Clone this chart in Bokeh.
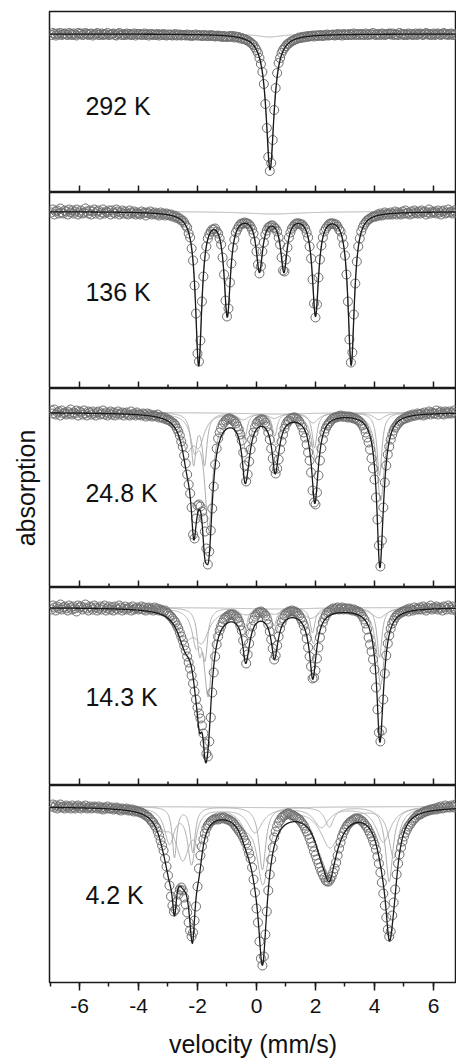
import numpy as np
from bokeh.plotting import figure
from bokeh.layouts import column
from bokeh.models import (Range1d, LinearAxis, SingleIntervalTicker, Label,
                          ColumnDataSource, CustomJSTickFormatter)
from bokeh.embed import file_html
from bokeh.resources import INLINE

# ---------------- data ----------------
# channel velocities (mm/s)
velocity = [
    -6.95, -6.9, -6.85, -6.8, -6.75, -6.7, -6.65, -6.6, -6.55, -6.5,
    -6.45, -6.4, -6.35, -6.3, -6.25, -6.2, -6.15, -6.1, -6.05, -6.0,
    -5.95, -5.9, -5.85, -5.8, -5.75, -5.7, -5.65, -5.6, -5.55, -5.5,
    -5.45, -5.4, -5.35, -5.3, -5.25, -5.2, -5.15, -5.1, -5.05, -5.0,
    -4.95, -4.9, -4.85, -4.8, -4.75, -4.7, -4.65, -4.6, -4.55, -4.5,
    -4.45, -4.4, -4.35, -4.3, -4.25, -4.2, -4.15, -4.1, -4.05, -4.0,
    -3.95, -3.9, -3.85, -3.8, -3.75, -3.7, -3.65, -3.6, -3.55, -3.5,
    -3.45, -3.4, -3.35, -3.3, -3.25, -3.2, -3.15, -3.1, -3.05, -3.0,
    -2.95, -2.9, -2.85, -2.8, -2.75, -2.7, -2.65, -2.6, -2.55, -2.5,
    -2.45, -2.4, -2.35, -2.3, -2.25, -2.2, -2.15, -2.1, -2.05, -2.0,
    -1.95, -1.9, -1.85, -1.8, -1.75, -1.7, -1.65, -1.6, -1.55, -1.5,
    -1.45, -1.4, -1.35, -1.3, -1.25, -1.2, -1.15, -1.1, -1.05, -1.0,
    -0.95, -0.9, -0.85, -0.8, -0.75, -0.7, -0.65, -0.6, -0.55, -0.5,
    -0.45, -0.4, -0.35, -0.3, -0.25, -0.2, -0.15, -0.1, -0.05, 0.0,
    0.05, 0.1, 0.15, 0.2, 0.25, 0.3, 0.35, 0.4, 0.45, 0.5,
    0.55, 0.6, 0.65, 0.7, 0.75, 0.8, 0.85, 0.9, 0.95, 1.0,
    1.05, 1.1, 1.15, 1.2, 1.25, 1.3, 1.35, 1.4, 1.45, 1.5,
    1.55, 1.6, 1.65, 1.7, 1.75, 1.8, 1.85, 1.9, 1.95, 2.0,
    2.05, 2.1, 2.15, 2.2, 2.25, 2.3, 2.35, 2.4, 2.45, 2.5,
    2.55, 2.6, 2.65, 2.7, 2.75, 2.8, 2.85, 2.9, 2.95, 3.0,
    3.05, 3.1, 3.15, 3.2, 3.25, 3.3, 3.35, 3.4, 3.45, 3.5,
    3.55, 3.6, 3.65, 3.7, 3.75, 3.8, 3.85, 3.9, 3.95, 4.0,
    4.05, 4.1, 4.15, 4.2, 4.25, 4.3, 4.35, 4.4, 4.45, 4.5,
    4.55, 4.6, 4.65, 4.7, 4.75, 4.8, 4.85, 4.9, 4.95, 5.0,
    5.05, 5.1, 5.15, 5.2, 5.25, 5.3, 5.35, 5.4, 5.45, 5.5,
    5.55, 5.6, 5.65, 5.7, 5.75, 5.8, 5.85, 5.9, 5.95, 6.0,
    6.05, 6.1, 6.15, 6.2, 6.25, 6.3, 6.35, 6.4, 6.45, 6.5,
    6.55, 6.6, 6.65, 6.7, 6.75,
]

# measured absorption (%) per channel
absorption_292K = [
    0.1, -0.1, 0.0, 0.15, -0.05, 0.05, -0.1, 0.1, 0.0, -0.05,
    0.05, 0.1, -0.1, 0.0, 0.1, -0.05, 0.05, 0.15, -0.1, 0.0,
    -0.05, 0.1, 0.05, -0.1, 0.0, 0.1, 0.0, -0.05, 0.15, 0.05,
    0.0, -0.1, 0.1, 0.05, -0.05, 0.1, 0.0, 0.05, -0.1, 0.1,
    0.05, 0.0, -0.05, 0.1, 0.15, 0.0, -0.1, 0.05, 0.1, 0.0,
    0.1, -0.05, 0.05, 0.0, 0.1, 0.05, -0.05, 0.15, 0.0, 0.05,
    0.0, 0.1, 0.05, -0.05, 0.1, 0.0, 0.15, 0.05, 0.0, 0.1,
    0.05, 0.1, 0.0, 0.15, 0.05, 0.1, 0.0, 0.1, 0.15, 0.05,
    0.1, 0.05, 0.15, 0.1, 0.0, 0.15, 0.1, 0.05, 0.15, 0.1,
    0.1, 0.15, 0.05, 0.15, 0.1, 0.2, 0.1, 0.15, 0.05, 0.15,
    0.15, 0.1, 0.2, 0.15, 0.1, 0.2, 0.15, 0.2, 0.1, 0.2,
    0.15, 0.25, 0.2, 0.15, 0.25, 0.2, 0.3, 0.2, 0.25, 0.3,
    0.25, 0.2, 0.3, 0.2, 0.35, 0.25, 0.35, 0.3, 0.45, 0.4,
    0.5, 0.5, 0.6, 0.65, 0.75, 0.85, 1.0, 1.1, 1.35, 1.6,
    1.9, 2.4, 3.0, 3.8, 5.0, 7.0, 9.4, 12.3, 13.7, 12.9,
    10.6, 7.6, 5.4, 3.9, 2.9, 2.4, 1.9, 1.6, 1.4, 1.2,
    1.0, 0.95, 0.8, 0.7, 0.65, 0.55, 0.5, 0.45, 0.35, 0.4,
    0.3, 0.35, 0.25, 0.3, 0.2, 0.25, 0.2, 0.15, 0.25, 0.15,
    0.15, 0.2, 0.1, 0.15, 0.2, 0.1, 0.15, 0.05, 0.15, 0.1,
    0.1, 0.05, 0.15, 0.1, 0.0, 0.1, 0.05, 0.15, 0.0, 0.1,
    0.05, 0.1, 0.0, 0.1, 0.05, -0.05, 0.1, 0.05, 0.0, 0.1,
    0.0, 0.05, 0.1, -0.05, 0.05, 0.1, 0.0, 0.05, -0.1, 0.05,
    0.1, 0.0, 0.05, 0.1, -0.05, 0.0, 0.1, 0.05, 0.0, -0.05,
    0.05, -0.05, 0.1, 0.0, 0.05, 0.1, -0.1, 0.05, 0.0, 0.1,
    0.0, 0.1, -0.05, 0.05, 0.0, 0.1, 0.05, -0.05, 0.1, 0.0,
    -0.05, 0.05, 0.1, 0.0, -0.1, 0.05, 0.0, 0.1, 0.05, -0.05,
    0.1, 0.0, -0.05, 0.05, 0.1, 0.0, -0.1, 0.05, 0.0, 0.1,
    0.0, -0.05, 0.1, 0.05, 0.0,
]

absorption_136K = [
    0.1, -0.2, 0.3, 0.0, -0.1, 0.2, -0.3, 0.1, 0.2, -0.1,
    0.0, 0.3, -0.2, 0.1, -0.1, 0.2, 0.0, -0.2, 0.3, 0.1,
    -0.1, 0.2, 0.1, -0.3, 0.0, 0.2, -0.1, 0.3, 0.0, -0.2,
    0.2, 0.0, -0.1, 0.3, 0.1, -0.2, 0.2, 0.0, 0.1, -0.1,
    0.3, -0.1, 0.1, 0.2, -0.2, 0.0, 0.3, 0.1, -0.1, 0.2,
    0.0, 0.2, 0.3, -0.1, 0.1, 0.2, 0.0, 0.3, 0.1, 0.2,
    0.3, 0.0, 0.2, 0.1, 0.4, 0.1, 0.2, 0.0, 0.3, 0.2,
    0.1, 0.3, 0.2, 0.4, 0.1, 0.3, 0.2, 0.4, 0.2, 0.3,
    0.4, 0.3, 0.5, 0.4, 0.6, 0.5, 0.7, 0.7, 0.9, 0.9,
    1.1, 1.4, 1.6, 2.2, 2.6, 3.7, 4.9, 7.4, 10.2, 14.2,
    15.0, 12.9, 9.0, 6.5, 4.5, 3.5, 2.7, 2.3, 2.0, 1.8,
    1.8, 1.7, 2.0, 2.2, 2.7, 3.3, 4.6, 6.3, 8.9, 10.5,
    9.7, 7.1, 5.2, 3.6, 2.8, 2.1, 1.8, 1.5, 1.3, 1.2,
    1.2, 1.1, 1.2, 1.2, 1.3, 1.5, 1.8, 2.2, 3.0, 4.0,
    5.3, 6.2, 5.5, 4.0, 3.1, 2.3, 1.9, 1.6, 1.5, 1.4,
    1.4, 1.6, 1.7, 2.0, 2.6, 3.3, 4.6, 5.9, 6.0, 4.8,
    3.6, 2.6, 2.1, 1.7, 1.5, 1.3, 1.2, 1.2, 1.2, 1.3,
    1.3, 1.5, 1.7, 2.1, 2.6, 3.5, 4.7, 6.8, 9.2, 10.6,
    9.3, 6.6, 4.8, 3.4, 2.6, 2.0, 1.7, 1.5, 1.3, 1.2,
    1.2, 1.2, 1.3, 1.3, 1.5, 1.8, 2.0, 2.6, 3.3, 4.4,
    6.3, 9.0, 12.8, 15.1, 14.1, 10.3, 7.2, 5.0, 3.5, 2.7,
    2.0, 1.6, 1.3, 1.1, 0.9, 0.8, 0.7, 0.6, 0.5, 0.5,
    0.5, 0.3, 0.4, 0.2, 0.4, 0.3, 0.1, 0.3, 0.2, 0.3,
    0.1, 0.3, 0.2, 0.0, 0.3, 0.1, 0.2, 0.3, 0.0, 0.2,
    -0.1, 0.2, 0.1, 0.3, 0.0, 0.2, -0.1, 0.1, 0.2, 0.0,
    0.2, -0.1, 0.1, 0.0, 0.3, 0.1, -0.2, 0.2, 0.0, 0.1,
    0.0, 0.2, -0.1, 0.1, 0.3, 0.0, -0.1, 0.2, 0.1, -0.2,
    0.1, 0.0, 0.2, -0.1, 0.1,
]

absorption_248K = [
    -0.2, 0.1, -0.3, 0.2, 0.0, -0.1, 0.3, -0.2, 0.1, 0.0,
    0.2, -0.1, 0.1, -0.3, 0.2, 0.0, 0.1, -0.2, 0.3, -0.1,
    0.0, 0.2, -0.2, 0.1, 0.3, -0.1, 0.0, 0.2, -0.1, 0.1,
    0.3, 0.0, -0.1, 0.2, 0.1, -0.2, 0.2, 0.0, 0.3, 0.1,
    -0.1, 0.2, 0.0, 0.3, 0.1, -0.1, 0.2, 0.1, 0.0, 0.3,
    0.1, 0.0, 0.2, 0.3, -0.1, 0.2, 0.1, 0.3, 0.0, 0.2,
    0.2, 0.3, 0.1, 0.2, 0.4, 0.1, 0.3, 0.2, 0.4, 0.3,
    0.3, 0.4, 0.2, 0.5, 0.4, 0.5, 0.6, 0.5, 0.7, 0.7,
    0.8, 0.9, 1.0, 1.1, 1.3, 1.6, 1.9, 2.3, 2.9, 3.4,
    4.3, 5.1, 6.2, 7.2, 8.1, 9.5, 12.2, 12.6, 10.6, 9.3,
    9.2, 9.4, 9.9, 10.6, 11.9, 13.6, 15.2, 13.9, 11.8, 9.6,
    7.4, 5.2, 3.6, 2.6, 2.0, 1.6, 1.2, 1.0, 0.8, 0.7,
    0.6, 0.6, 0.7, 0.8, 0.9, 1.1, 1.4, 1.7, 2.2, 2.8,
    4.0, 5.3, 6.9, 6.2, 4.9, 3.7, 2.7, 2.0, 1.5, 1.1,
    0.9, 0.8, 0.7, 0.7, 0.8, 1.0, 1.4, 2.0, 2.7, 3.6,
    4.6, 5.6, 6.1, 5.6, 4.7, 3.7, 2.9, 2.2, 1.6, 1.2,
    0.9, 0.8, 0.6, 0.6, 0.5, 0.5, 0.6, 0.7, 0.9, 1.2,
    1.5, 2.0, 2.5, 3.2, 4.0, 4.8, 6.0, 7.8, 9.0, 9.2,
    8.0, 6.3, 4.8, 3.6, 2.7, 2.0, 1.6, 1.3, 1.1, 0.9,
    0.7, 0.6, 0.5, 0.5, 0.4, 0.4, 0.3, 0.4, 0.4, 0.4,
    0.4, 0.5, 0.4, 0.5, 0.5, 0.6, 0.6, 0.7, 0.8, 0.9,
    1.1, 1.3, 1.6, 2.0, 2.5, 3.0, 3.7, 4.6, 5.6, 6.7,
    8.5, 10.7, 13.3, 15.4, 12.8, 9.5, 7.0, 5.3, 4.2, 3.4,
    2.7, 2.2, 1.8, 1.5, 1.3, 1.1, 0.9, 0.8, 0.7, 0.6,
    0.6, 0.4, 0.5, 0.3, 0.4, 0.2, 0.3, 0.3, 0.1, 0.2,
    0.2, 0.1, 0.3, 0.0, 0.2, 0.1, -0.1, 0.2, 0.0, 0.1,
    0.1, -0.2, 0.2, 0.0, -0.1, 0.1, 0.2, -0.1, 0.0, 0.1,
    -0.1, 0.1, 0.0, -0.2, 0.1,
]

absorption_143K = [
    0.2, -0.2, 0.0, 0.3, -0.1, 0.1, -0.3, 0.2, 0.0, -0.1,
    0.1, 0.3, -0.2, 0.0, 0.2, -0.1, 0.1, 0.4, -0.2, 0.0,
    -0.1, 0.2, 0.0, -0.3, 0.1, 0.3, -0.1, 0.0, 0.2, -0.2,
    0.0, 0.3, 0.1, -0.1, 0.2, 0.0, -0.2, 0.3, 0.1, -0.1,
    0.2, 0.0, 0.3, -0.1, 0.1, 0.2, -0.2, 0.0, 0.3, 0.1,
    -0.1, 0.2, 0.1, 0.0, 0.3, -0.1, 0.2, 0.1, 0.0, 0.2,
    0.1, -0.1, 0.2, 0.0, 0.3, 0.1, 0.0, 0.2, 0.1, 0.3,
    0.0, 0.2, 0.1, 0.3, 0.2, 0.3, 0.4, 0.3, 0.5, 0.6,
    0.8, 0.9, 1.1, 1.3, 1.5, 1.8, 2.1, 2.5, 2.9, 3.3,
    3.8, 4.3, 4.9, 5.5, 6.1, 6.8, 7.6, 8.4, 9.2, 10.0,
    10.6, 11.1, 11.8, 12.6, 13.6, 14.6, 14.9, 13.4, 11.0, 8.5,
    6.5, 4.9, 3.7, 2.9, 2.3, 1.9, 1.5, 1.2, 1.0, 0.9,
    0.8, 0.7, 0.7, 0.7, 0.8, 0.9, 1.1, 1.4, 1.8, 2.3,
    3.3, 4.4, 5.6, 4.7, 3.6, 2.6, 1.9, 1.3, 0.9, 0.7,
    0.5, 0.5, 0.4, 0.5, 0.6, 0.8, 1.2, 1.7, 2.4, 3.2,
    4.1, 5.2, 4.8, 3.8, 2.9, 2.1, 1.5, 1.1, 0.8, 0.6,
    0.5, 0.4, 0.4, 0.3, 0.4, 0.4, 0.5, 0.6, 0.8, 1.1,
    1.4, 1.8, 2.4, 3.1, 4.0, 4.9, 5.9, 7.1, 7.0, 6.3,
    5.1, 4.0, 3.0, 2.2, 1.5, 1.1, 0.8, 0.5, 0.4, 0.3,
    0.2, 0.1, 0.2, 0.1, 0.0, 0.2, 0.1, 0.0, 0.2, 0.1,
    0.1, 0.2, 0.1, 0.2, 0.3, 0.2, 0.3, 0.4, 0.4, 0.5,
    0.7, 0.9, 1.2, 1.6, 2.2, 3.0, 3.7, 4.4, 5.2, 6.2,
    8.0, 10.2, 12.5, 13.4, 12.3, 9.2, 6.6, 4.8, 3.6, 2.8,
    2.1, 1.6, 1.3, 1.0, 0.8, 0.7, 0.6, 0.5, 0.4, 0.4,
    0.3, 0.2, 0.4, 0.1, 0.2, 0.3, 0.0, 0.2, 0.1, 0.2,
    0.0, 0.2, -0.1, 0.1, 0.3, 0.0, 0.1, -0.2, 0.2, 0.0,
    0.1, -0.1, 0.2, 0.0, 0.1, 0.3, -0.1, 0.0, 0.2, -0.2,
    0.0, 0.2, -0.1, 0.1, 0.3,
]

absorption_42K = [
    0.0, -0.2, 0.1, -0.1, 0.2, 0.0, -0.2, 0.1, 0.0, 0.2,
    -0.1, 0.1, 0.0, 0.2, -0.1, 0.1, 0.2, 0.0, -0.1, 0.1,
    0.2, 0.0, 0.1, -0.1, 0.2, 0.1, 0.0, 0.2, 0.1, 0.0,
    0.1, 0.2, 0.0, 0.2, 0.1, 0.3, 0.1, 0.2, 0.0, 0.2,
    0.2, 0.1, 0.3, 0.2, 0.1, 0.3, 0.2, 0.4, 0.2, 0.3,
    0.3, 0.2, 0.4, 0.3, 0.4, 0.3, 0.5, 0.4, 0.5, 0.5,
    0.6, 0.6, 0.7, 0.8, 0.9, 1.0, 1.1, 1.3, 1.5, 1.6,
    1.9, 2.1, 2.5, 2.9, 3.4, 3.9, 4.4, 5.2, 6.0, 6.9,
    7.9, 9.0, 9.9, 10.5, 10.3, 9.5, 8.8, 8.3, 8.1, 8.4,
    9.1, 9.8, 10.6, 11.6, 12.4, 13.0, 12.6, 11.4, 10.0, 8.0,
    6.2, 4.9, 4.0, 3.3, 2.7, 2.2, 1.9, 1.7, 1.5, 1.4,
    1.3, 1.3, 1.2, 1.3, 1.2, 1.1, 1.2, 1.1, 1.2, 1.3,
    1.3, 1.4, 1.5, 1.6, 1.8, 2.0, 2.2, 2.4, 2.6, 2.8,
    3.1, 3.4, 3.7, 4.2, 4.7, 5.2, 6.1, 7.3, 8.6, 10.2,
    11.6, 13.5, 15.2, 15.9, 15.0, 12.8, 10.5, 8.4, 6.8, 5.3,
    4.1, 3.1, 2.5, 2.0, 1.6, 1.4, 1.1, 1.0, 0.9, 0.8,
    0.7, 0.7, 0.8, 0.9, 0.9, 1.0, 1.1, 1.2, 1.3, 1.5,
    1.7, 1.9, 2.2, 2.5, 2.8, 3.2, 3.6, 4.0, 4.5, 4.9,
    5.3, 5.7, 6.1, 6.5, 6.8, 7.1, 7.4, 7.5, 7.5, 7.3,
    7.0, 6.6, 6.2, 5.6, 4.9, 4.2, 3.6, 3.0, 2.6, 2.3,
    2.0, 1.8, 1.6, 1.5, 1.4, 1.3, 1.2, 1.2, 1.2, 1.3,
    1.4, 1.5, 1.7, 1.9, 2.1, 2.4, 2.7, 3.0, 3.4, 3.8,
    4.3, 5.0, 5.7, 6.6, 7.6, 8.7, 9.9, 11.1, 12.3, 13.0,
    12.5, 10.9, 9.6, 8.3, 6.8, 5.7, 4.8, 4.1, 3.5, 3.0,
    2.6, 2.3, 2.0, 1.8, 1.6, 1.4, 1.2, 1.1, 0.9, 0.8,
    0.8, 0.7, 0.6, 0.5, 0.5, 0.4, 0.4, 0.3, 0.3, 0.3,
    0.2, 0.3, 0.1, 0.2, 0.0, 0.2, 0.1, -0.1, 0.1, 0.0,
    0.1, -0.1, 0.0, 0.1, -0.2,
]

# fitted sub-spectra: (line position mm/s, depth %, half width mm/s)
fit_292K_main = [(0.46, 13.3, 0.16)]
fit_292K_minor = [(0.45, 0.3, 0.5)]

fit_136K_sextet = [(-1.96, 15.2, 0.13), (-0.99, 10.1, 0.13), (0.10, 5.5, 0.13),
                   (0.93, 5.5, 0.13), (2.00, 10.1, 0.13), (3.21, 15.2, 0.13)]
fit_136K_minor = [(0.55, 0.25, 1.2)]

fit_248K_a = [(-2.13, 5.0, 0.10), (-1.76, 5.0, 0.10), (-0.40, 2.6, 0.10),
              (0.62, 2.3, 0.10), (1.97, 3.5, 0.10), (4.17, 6.3, 0.10)]
fit_248K_b = [(-2.10, 3.0, 0.16), (-1.62, 11.3, 0.16), (-0.33, 3.8, 0.16),
              (0.67, 3.0, 0.16), (2.00, 4.5, 0.16), (4.21, 8.8, 0.16)]
fit_248K_c = [(-2.35, 3.3, 0.22), (-1.95, 2.8, 0.22), (-0.45, 0.6, 0.22),
              (0.60, 0.5, 0.22), (1.92, 1.0, 0.22), (4.15, 0.7, 0.22)]
fit_248K_minor = [(0.6, 0.15, 1.5)]

fit_143K_a = [(-1.93, 4.0, 0.10), (-1.74, 4.5, 0.10), (-0.38, 2.0, 0.10),
              (0.60, 1.8, 0.10), (1.90, 2.5, 0.10), (4.17, 5.0, 0.10)]
fit_143K_b = [(-2.05, 3.0, 0.16), (-1.64, 8.5, 0.16), (-0.33, 2.6, 0.16),
              (0.63, 2.4, 0.16), (1.93, 3.5, 0.16), (4.21, 7.7, 0.16)]
fit_143K_c = [(-2.42, 2.7, 0.30), (-1.85, 3.0, 0.30), (-0.35, 0.5, 0.30),
              (0.60, 0.5, 0.30), (1.85, 1.0, 0.30), (4.15, 1.0, 0.30)]
fit_143K_minor = [(0.6, 0.15, 1.5)]

fit_42K_a = [(-2.78, 5.0, 0.09), (-2.16, 4.5, 0.10), (0.20, 6.3, 0.14),
             (2.47, 2.0, 0.18), (4.50, 7.5, 0.15)]
fit_42K_b = [(-2.95, 3.5, 0.20), (-2.20, 5.5, 0.16), (-0.35, 1.2, 0.25),
             (0.22, 7.5, 0.25), (2.50, 4.0, 0.40), (4.65, 5.0, 0.20)]
fit_42K_c = [(-3.15, 1.5, 0.25), (-2.50, 5.0, 0.30), (-1.95, 3.0, 0.15),
             (-0.05, 2.5, 0.30), (2.20, 2.0, 0.30), (4.30, 3.5, 0.30)]
fit_42K_minor = [(0.6, 0.12, 2.0)]

temperatures = ["292 K", "136 K", "24.8 K", "14.3 K", "4.2 K"]

# velocity ticks (mm/s)
major_ticks = [-6, -4, -2, 0, 2, 4, 6]
minor_ticks = [-5, -3, -1, 1, 3, 5]

# ---------------- styling / layout ----------------
FONT = "Liberation Sans"
INK = "#1a1a1a"
POINT = "#6e6e6e"
SUB = "#ababab"

# absorption is drawn downward: plotted value = -absorption
panels = [
    dict(data=absorption_292K, comps=[fit_292K_main, fit_292K_minor],
         yr=(-15.85, 2.25), fh=181, ly=-7.15),
    dict(data=absorption_136K, comps=[fit_136K_sextet, fit_136K_minor],
         yr=(-17.7, 1.9), fh=196, ly=-8.05),
    dict(data=absorption_248K, comps=[fit_248K_a, fit_248K_b, fit_248K_c, fit_248K_minor],
         yr=(-17.5, 2.4), fh=199, ly=-8.05),
    dict(data=absorption_143K, comps=[fit_143K_a, fit_143K_b, fit_143K_c, fit_143K_minor],
         yr=(-17.8, 2.0), fh=198, ly=-8.9),
    dict(data=absorption_42K, comps=[fit_42K_a, fit_42K_b, fit_42K_c, fit_42K_minor],
         yr=(-17.6, 2.1), fh=197, ly=-8.8),
]

MAJOR_LEN = 0.7   # tick lengths in panel units (10 px per unit)
MINOR_LEN = 0.4


def profile(v, lines):
    out = np.zeros_like(v)
    for pos, depth, hw in lines:
        out += depth / (1.0 + ((v - pos) / hw) ** 2)
    return out


x_range = Range1d(-7.017, 6.78)
v_fine = np.linspace(-7.02, 6.8, 1500)
hyphen_fmt = CustomJSTickFormatter(code="return tick.toFixed(0);")

figs = []
for i, (panel, temp) in enumerate(zip(panels, temperatures)):
    p = figure(
        frame_width=407, frame_height=panel["fh"],
        x_range=x_range, y_range=Range1d(*panel["yr"]),
        output_backend="svg", toolbar_location=None, title=None,
        x_axis_location=None, y_axis_location=None,
        min_border_left=49, min_border_right=0,
        min_border_top=11 if i == 0 else 0, min_border_bottom=0,
        background_fill_color=None, border_fill_color="white",
    )
    p.outline_line_color = INK
    p.outline_line_width = 1.5
    p.grid.visible = False

    total = np.zeros_like(v_fine)
    for comp in panel["comps"]:
        c = profile(v_fine, comp)
        total += c
        p.line(v_fine, -c, line_color=SUB, line_width=1)

    pts = list(zip(velocity, panel["data"]))
    src = ColumnDataSource(dict(v=[a for a, b in pts], a=[-b for a, b in pts]))
    p.scatter("v", "a", source=src, marker="circle", size=9,
              fill_color=None, line_color=POINT, line_width=1)
    p.line(v_fine, -total, line_color=INK, line_width=1.3)

    p.add_layout(Label(x=-5.8, y=panel["ly"], text=temp, text_font=FONT,
                       text_font_size="25px", text_color="#111111",
                       text_align="left", text_baseline="middle"))

    # velocity ticks on the edge shared with the panel below
    if i < 4:
        bot = panel["yr"][0]
        p.segment(x0=major_ticks, y0=[bot] * len(major_ticks),
                  x1=major_ticks, y1=[bot + MAJOR_LEN] * len(major_ticks),
                  line_color=INK, line_width=1.5)
        p.segment(x0=minor_ticks, y0=[bot] * len(minor_ticks),
                  x1=minor_ticks, y1=[bot + MINOR_LEN] * len(minor_ticks),
                  line_color=INK, line_width=1.5)

    if i == 2:
        left = LinearAxis(
            axis_label="absorption", axis_label_text_font=FONT,
            axis_label_text_font_size="25px", axis_label_text_font_style="normal",
            axis_label_text_color="#111111", axis_label_standoff=4,
            major_tick_line_color=None, minor_tick_line_color=None,
            axis_line_color=None, major_label_text_font_size="1px",
            major_label_text_color=None, major_label_standoff=0,
        )
        p.add_layout(left, "left")

    if i == 4:
        bottom = LinearAxis(
            ticker=SingleIntervalTicker(interval=2, num_minor_ticks=2),
            formatter=hyphen_fmt,
            major_tick_in=0, major_tick_out=8, minor_tick_in=0, minor_tick_out=4,
            major_tick_line_color=INK, minor_tick_line_color=INK,
            major_tick_line_width=1.5, minor_tick_line_width=1.5,
            axis_line_color=None,
            major_label_text_font=FONT, major_label_text_font_size="21px",
            major_label_text_color="#111111", major_label_standoff=8,
            axis_label="velocity (mm/s)", axis_label_text_font=FONT,
            axis_label_text_font_size="25px", axis_label_text_font_style="normal",
            axis_label_text_color="#111111", axis_label_standoff=14,
        )
        p.add_layout(bottom, "below")

    figs.append(p)

layout = column(*figs, spacing=0)
open("out.html", "w").write(file_html(layout, INLINE))
